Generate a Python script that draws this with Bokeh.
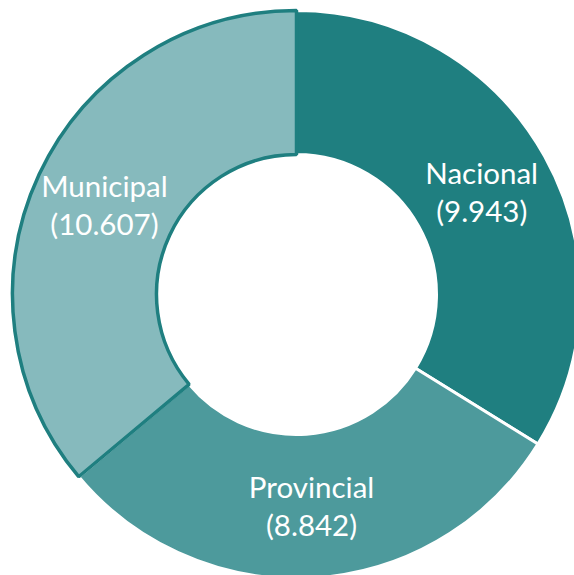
import numpy as np
from bokeh.plotting import figure
from bokeh.models import Range1d, ColumnDataSource
from bokeh.core.properties import value
from bokeh.embed import file_html
from bokeh.resources import INLINE

categories = ["Nacional", "Provincial", "Municipal"]
values = [9.943, 8.842, 10.607]
value_labels = ["(9.943)", "(8.842)", "(10.607)"]
colors = ["#1F7F80", "#4D9A9C", "#86BABD"]
line_colors = ["white", "white", "#1F7F80"]

vals = np.array(values)
frac = vals / vals.sum()
cum_end = np.cumsum(frac)
cum_start = cum_end - frac
start = np.pi / 2 - cum_start * 2 * np.pi
end = np.pi / 2 - cum_end * 2 * np.pi
mid = (start + end) / 2

cx, cy = 296, 281
r_in, r_out = 140, 284
r_lab = (r_in + r_out) / 2

src = ColumnDataSource(dict(
    start=start, end=end, color=colors, lc=line_colors,
    lx=cx + r_lab * np.cos(mid), ly=cy + r_lab * np.sin(mid),
    cat=categories, vl=value_labels,
))

p = figure(width=574, height=575, output_backend="svg", toolbar_location=None,
           x_range=Range1d(0, 574), y_range=Range1d(0, 575), min_border=0)
p.axis.visible = False
p.grid.visible = False
p.outline_line_color = None
p.background_fill_color = "white"

for i in range(3):
    p.annular_wedge(x=cx, y=cy, inner_radius=r_in, outer_radius=r_out,
                    start_angle=start[i], end_angle=end[i], direction="clock",
                    fill_color=colors[i], line_color=line_colors[i],
                    line_width=3.5 if i == 2 else 3)

p.text(x="lx", y="ly", text="cat", source=src, text_align="center", text_baseline="middle",
       text_color="white", text_font=value("Lato"), text_font_size="29.5px", y_offset=-19)
p.text(x="lx", y="ly", text="vl", source=src, text_align="center", text_baseline="middle",
       text_color="white", text_font=value("Lato"), text_font_size="29.5px", y_offset=19)

open("out.html", "w").write(file_html(p, INLINE))
